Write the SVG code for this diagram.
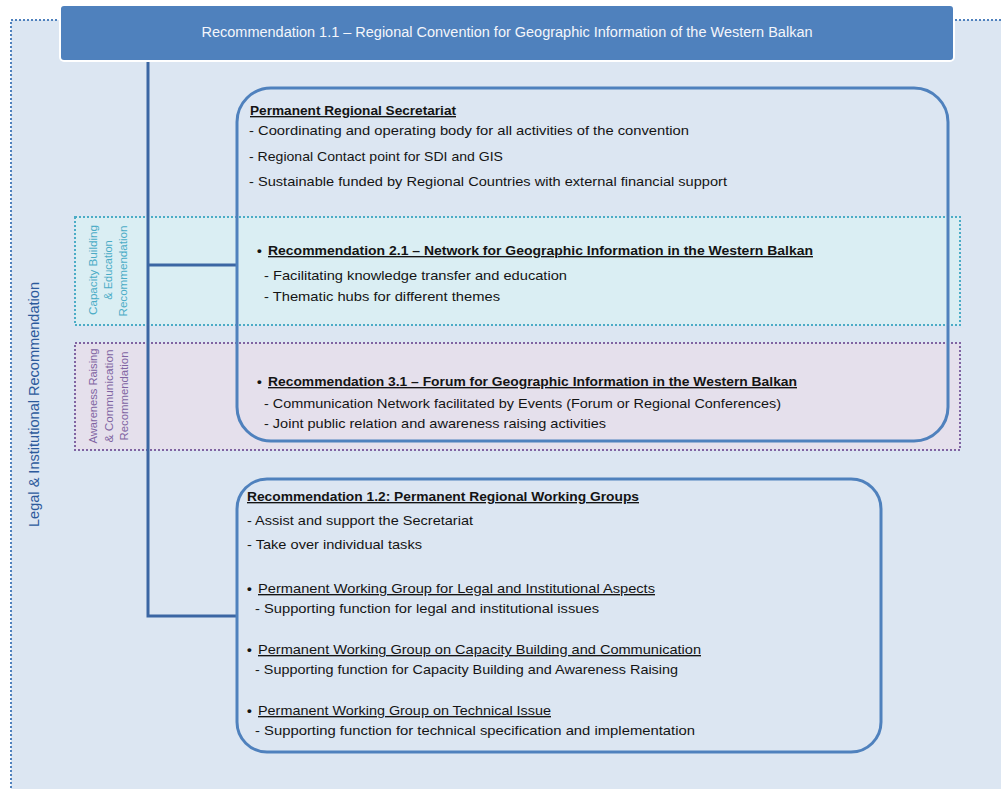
<svg xmlns="http://www.w3.org/2000/svg" width="1001" height="789" viewBox="0 0 1001 789">
<style>
text{font-family:"Liberation Sans",Arial,sans-serif;fill:#141414;font-size:13.5px}
.b{font-weight:bold}
.u{text-decoration:underline}
.title{fill:#f4f6fb;font-size:14px}
.box{fill:none;stroke:#4f81bd;stroke-width:3}
.conn{fill:none;stroke:#3b66a3;stroke-width:3}
.side{font-size:11px}
</style>
<rect x="0" y="0" width="1001" height="789" fill="#ffffff"/>
<g id="outer">
<rect x="11" y="20" width="1000" height="780" fill="#dce6f2" stroke="#4f81bd" stroke-width="2" stroke-dasharray="2 2"/>
<text transform="translate(39,404.5) rotate(-90)" text-anchor="middle" style="fill:#2c5a9c;font-size:14px" textLength="245" lengthAdjust="spacingAndGlyphs">Legal &amp; Institutional Recommendation</text>
</g>
<g id="band-capacity">
<rect x="75" y="217" width="885" height="108" fill="#daeef3" stroke="#4bacc6" stroke-width="2" stroke-dasharray="2 2"/>
<text class="side" style="fill:#4bacc6" transform="translate(97,270) rotate(-90)" text-anchor="middle" textLength="90" lengthAdjust="spacingAndGlyphs">Capacity Building</text>
<text class="side" style="fill:#4bacc6" transform="translate(112,270) rotate(-90)" text-anchor="middle">&amp; Education</text>
<text class="side" style="fill:#4bacc6" transform="translate(127,271) rotate(-90)" text-anchor="middle" textLength="91" lengthAdjust="spacingAndGlyphs">Recommendation</text>
</g>
<g id="band-awareness">
<rect x="75" y="343" width="885" height="107" fill="#e5e0ec" stroke="#8064a2" stroke-width="2" stroke-dasharray="2 2"/>
<text class="side" style="fill:#8064a2" transform="translate(97,396) rotate(-90)" text-anchor="middle" textLength="95" lengthAdjust="spacingAndGlyphs">Awareness Raising</text>
<text class="side" style="fill:#8064a2" transform="translate(112.5,396) rotate(-90)" text-anchor="middle" textLength="93" lengthAdjust="spacingAndGlyphs">&amp; Communication</text>
<text class="side" style="fill:#8064a2" transform="translate(128,396) rotate(-90)" text-anchor="middle" textLength="89" lengthAdjust="spacingAndGlyphs">Recommendation</text>
</g>
<g id="connectors">
<path class="conn" d="M148 61 V616 H237"/>
<path class="conn" d="M148 265 H237"/>
</g>
<g id="rec11">
<rect x="60" y="5" width="894" height="56" rx="4" fill="#4f81bd" stroke="#ffffff" stroke-width="2"/>
<text class="title" x="507" y="37" text-anchor="middle" textLength="611" lengthAdjust="spacingAndGlyphs">Recommendation 1.1 – Regional Convention for Geographic Information of the Western Balkan</text>
</g>
<g id="secretariat">
<rect class="box" x="237" y="88" width="711" height="353" rx="34"/>
<text class="b u" x="250" y="115" textLength="206" lengthAdjust="spacingAndGlyphs">Permanent Regional Secretariat</text>
<text x="249" y="135" textLength="440" lengthAdjust="spacingAndGlyphs">- Coordinating and operating body for all activities of the convention</text>
<text x="249" y="161" textLength="254" lengthAdjust="spacingAndGlyphs">- Regional Contact point for SDI and GIS</text>
<text x="249" y="186" textLength="478" lengthAdjust="spacingAndGlyphs">- Sustainable funded by Regional Countries with external financial support</text>
</g>
<g id="rec21">
<text class="b" x="257" y="255">•</text>
<text class="b u" x="268" y="255" textLength="545" lengthAdjust="spacingAndGlyphs">Recommendation 2.1 – Network for Geographic Information in the Western Balkan</text>
<text x="264" y="280" textLength="303" lengthAdjust="spacingAndGlyphs">- Facilitating knowledge transfer and education</text>
<text x="264" y="301" textLength="236" lengthAdjust="spacingAndGlyphs">- Thematic hubs for different themes</text>
</g>
<g id="rec31">
<text class="b" x="257" y="386">•</text>
<text class="b u" x="268" y="386" textLength="529" lengthAdjust="spacingAndGlyphs">Recommendation 3.1 – Forum for Geographic Information in the Western Balkan</text>
<text x="264" y="408" textLength="517" lengthAdjust="spacingAndGlyphs">- Communication Network facilitated by Events (Forum or Regional Conferences)</text>
<text x="264" y="428" textLength="342" lengthAdjust="spacingAndGlyphs">- Joint public relation and awareness raising activities</text>
</g>
<g id="rec12">
<rect class="box" x="237" y="479" width="644" height="273" rx="30"/>
<text class="b u" x="247" y="501" textLength="392" lengthAdjust="spacingAndGlyphs">Recommendation 1.2: Permanent Regional Working Groups</text>
<text x="247" y="525" textLength="226" lengthAdjust="spacingAndGlyphs">- Assist and support the Secretariat</text>
<text x="247" y="549" textLength="175" lengthAdjust="spacingAndGlyphs">- Take over individual tasks</text>
<text class="b" x="247" y="593">•</text>
<text class="u" x="258" y="593" textLength="397" lengthAdjust="spacingAndGlyphs">Permanent Working Group for Legal and Institutional Aspects</text>
<text x="255" y="613" textLength="344" lengthAdjust="spacingAndGlyphs">- Supporting function for legal and institutional issues</text>
<text class="b" x="247" y="654">•</text>
<text class="u" x="258" y="654" textLength="443" lengthAdjust="spacingAndGlyphs">Permanent Working Group on Capacity Building and Communication</text>
<text x="255" y="674" textLength="423" lengthAdjust="spacingAndGlyphs">- Supporting function for Capacity Building and Awareness Raising</text>
<text class="b" x="247" y="715">•</text>
<text class="u" x="258" y="715" textLength="293" lengthAdjust="spacingAndGlyphs">Permanent Working Group on Technical Issue</text>
<text x="255" y="735" textLength="440" lengthAdjust="spacingAndGlyphs">- Supporting function for technical specification and implementation</text>
</g>
</svg>
